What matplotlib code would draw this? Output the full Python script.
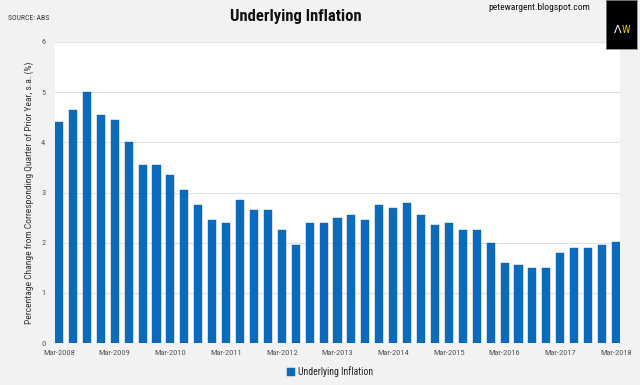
import numpy as np
import matplotlib
matplotlib.use("Agg")
from matplotlib import pyplot as plt

# Quarterly underlying inflation, Mar-2008 .. Mar-2018
quarters = []
for yr in range(2008, 2019):
    for q in ["Mar", "Jun", "Sep", "Dec"]:
        quarters.append(f"{q}-{yr}")
quarters = quarters[:41]

values = [4.4, 4.65, 5.0, 4.55, 4.45, 4.0, 3.55, 3.55, 3.35, 3.05,
          2.75, 2.45, 2.4, 2.85, 2.65, 2.65, 2.25, 1.95, 2.4, 2.4,
          2.5, 2.55, 2.45, 2.75, 2.7, 2.8, 2.55, 2.35, 2.4, 2.25,
          2.25, 2.0, 1.6, 1.55, 1.5, 1.5, 1.8, 1.9, 1.9, 1.95, 2.02]

y_ticks = [0, 1, 2, 3, 4, 5, 6]
series_name = "Underlying Inflation"

narrow = ["Roboto Condensed", "DejaVu Sans"]
plt.rcParams["font.family"] = narrow

BAR = "#0a6bbd"
BG = "#f2f2f2"

fig = plt.figure(figsize=(6.4, 3.85), dpi=100, facecolor=BG)
ax = fig.add_axes([55 / 640, 42 / 385, 565 / 640, 301 / 385])
ax.set_facecolor("white")

x = np.arange(len(values))
w = 0.58
ax.bar(x, values, width=w, color=BAR, edgecolor="#1f5fa0", linewidth=0.3,
       label=series_name, zorder=3)

ax.set_xlim(-w / 2, len(values) - 1 + w / 2)
ax.set_ylim(0, 6)
ax.set_yticks(y_ticks)
ax.set_yticklabels([str(t) for t in y_ticks])
ax.grid(axis="y", color="#e2e2e2", linewidth=0.8, zorder=0)

march = [i for i, q in enumerate(quarters) if q.startswith("Mar")]
ax.set_xticks(march)
ax.set_xticklabels([quarters[i] for i in march])

for s in ax.spines.values():
    s.set_visible(False)
ax.tick_params(axis="both", length=0, labelsize=6, colors="#555555", pad=5)
ax.tick_params(axis="y", pad=7)

ax.set_ylabel("Percentage Change from Corresponding Quarter of Prior Year, s.a. (%)",
              fontsize=6.8, color="#333333", labelpad=5)

# header texts
fig.text(296 / 640, 1 - 17 / 385, "Underlying Inflation", ha="center", va="center",
         fontsize=12, fontweight="bold", color="#111111")
fig.text(8 / 640, 1 - 18 / 385, "SOURCE: ABS", ha="left", va="center",
         fontsize=5.5, color="#333333")
fig.text(539 / 640, 1 - 8 / 385, "petewargent.blogspot.com", ha="center", va="center",
         fontsize=6.8, color="#111111")

# AW logo
logo = fig.add_axes([606 / 640, 1 - 49 / 385, 31 / 640, 49 / 385])
logo.set_facecolor("black")
logo.set_xticks([])
logo.set_yticks([])
for s in logo.spines.values():
    s.set_color("#888888")
    s.set_linewidth(0.6)
logo.text(0.5, 0.38, "Λ", color="white", fontsize=8, ha="right", va="center",
          transform=logo.transAxes, family="DejaVu Sans")
logo.text(0.5, 0.38, "W", color="#e8c200", fontsize=8, ha="left", va="center",
          transform=logo.transAxes)

leg = fig.legend(loc="center", bbox_to_anchor=(330 / 640, 1 - 372 / 385),
                 frameon=False, fontsize=7, handlelength=0.9, handleheight=0.9,
                 handletextpad=0.3)
for t in leg.get_texts():
    t.set_color("#222222")

fig.savefig("out.png", dpi=100, facecolor=BG)
